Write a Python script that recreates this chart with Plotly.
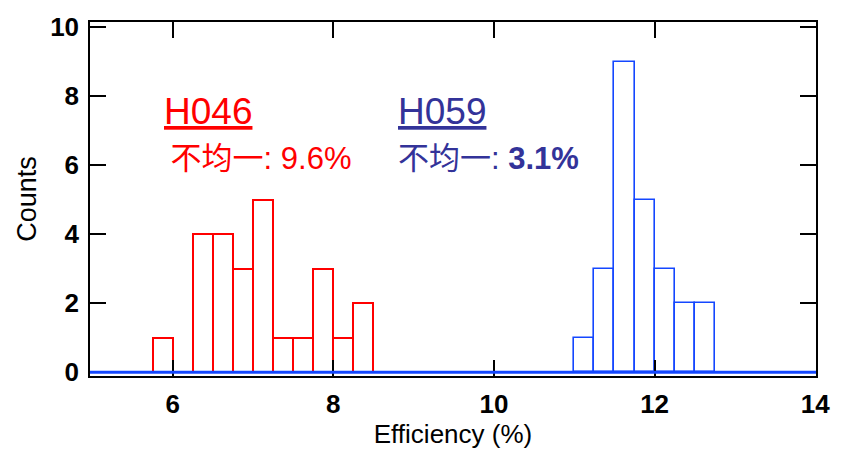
import plotly.graph_objects as go

# Data
bin_width = 0.25
h046_bin_start = [5.75, 6.25, 6.5, 6.75, 7.0, 7.25, 7.5, 7.75, 8.0, 8.25]
h046_counts = [1, 4, 4, 3, 5, 1, 1, 3, 1, 2]
h059_bin_start = [11.0, 11.25, 11.5, 11.75, 12.0, 12.25, 12.5]
h059_counts = [1, 3, 9, 5, 3, 2, 2]
x_ticks = [6, 8, 10, 12, 14]
y_ticks = [0, 2, 4, 6, 8, 10]

RED = "#FF0000"
BLUE = "#1447FF"
NAVY = "#333399"
FONT = "Liberation Sans, Arial, Noto Sans CJK SC, sans-serif"

fig = go.Figure()
fig.add_trace(go.Bar(
    x=h046_bin_start, y=h046_counts, width=bin_width, offset=0,
    marker=dict(color="rgba(0,0,0,0)", line=dict(color=RED, width=2)),
    showlegend=False,
))
fig.add_trace(go.Bar(
    x=h059_bin_start, y=h059_counts, width=bin_width, offset=0,
    marker=dict(color="rgba(0,0,0,0)", line=dict(color=BLUE, width=1.6)),
    showlegend=False,
))

# baseline
fig.add_shape(type="line", xref="paper", yref="y", x0=0, x1=1, y0=0, y1=0,
              line=dict(color=BLUE, width=3), layer="above")

fig.update_layout(
    width=846, height=462,
    margin=dict(l=90, r=30, t=22, b=86),
    paper_bgcolor="white", plot_bgcolor="white",
    bargap=0,
    font=dict(family=FONT, color="black"),
)
fig.update_xaxes(
    range=[4.97, 14.01], tickvals=x_ticks, ticks="inside", ticklen=16, tickwidth=1.5,
    tickcolor="black", showline=True, linecolor="black", linewidth=1.5, mirror="ticks",
    showgrid=False, zeroline=False,
    tickfont=dict(size=26, family=FONT, weight="bold"),
    title=dict(text="Efficiency (%)", font=dict(size=26, family=FONT), standoff=6),
    ticklabelstandoff=4,
)
fig.update_yaxes(
    range=[-0.107, 10.15], tickvals=y_ticks, ticks="inside", ticklen=16, tickwidth=1.5,
    tickcolor="black", showline=True, linecolor="black", linewidth=1.5, mirror="ticks",
    showgrid=False, zeroline=False,
    tickfont=dict(size=26, family=FONT, weight="bold"),
    title=dict(text="Counts", font=dict(size=27, family=FONT), standoff=6),
    ticklabelstandoff=4,
)

ann = [
    dict(text="<u>H046</u>", x=0.099, y=0.746, color=RED, size=37),
    dict(text=" 不均一: 9.6%", x=0.097, y=0.614, color=RED, size=31),
    dict(text="<u>H059</u>", x=0.421, y=0.746, color=NAVY, size=37),
    dict(text="不均一: <b>3.1%</b>", x=0.422, y=0.614, color=NAVY, size=31),
]
for a in ann:
    fig.add_annotation(text=a["text"], x=a["x"], y=a["y"], xref="paper", yref="paper",
                       xanchor="left", yanchor="middle", showarrow=False,
                       font=dict(size=a["size"], color=a["color"], family=FONT))

fig.write_html("out.html")
